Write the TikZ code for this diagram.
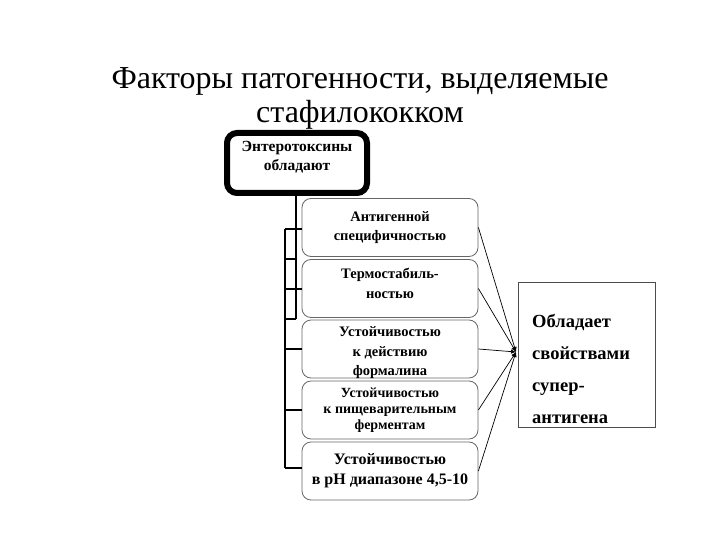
\documentclass[tikz,border=0pt]{standalone}
\usepackage{fontspec}
\setmainfont{Liberation Serif}
\usetikzlibrary{arrows.meta}
\begin{document}
\begin{tikzpicture}[x=1pt,y=-1pt,
  item/.style={draw=black!60, line width=0.8pt, rounded corners=9pt, minimum width=176pt, minimum height=58pt, inner sep=0pt, align=center, font=\bfseries\fontsize{14.5}{19.5}\selectfont},
  itemtext/.style={inner sep=0pt, align=center, font=\bfseries\fontsize{14.5}{20}\selectfont},
  bracket/.style={line width=2.6pt},
  link/.style={line width=0.7pt, -{Latex[length=5pt,width=4.5pt]}}]
\useasboundingbox (0,0) rectangle (720,540);
\node[font=\fontsize{32}{34}\selectfont, align=center, inner sep=0pt] (title) at (360,98) {Факторы патогенности, выделяемые\\стафилококком};
% top box
\node[draw, line width=6pt, rounded corners=10pt, minimum width=140pt, minimum height=60pt, inner sep=0pt] (top) at (297,163) {};
\node[font=\bfseries\fontsize{15.5}{19}\selectfont, align=center, anchor=north, inner sep=0pt] (toptext) at (297,141) {Энтеротоксины\\обладают};
% items
\node[item] (b1) at (390,227.5) {Антигенной\\специфичностью};
\node[item] (b2) at (390,288.5) {};
\node[itemtext] (b2text) at (390,283) {Термостабиль-\\ностью};
\node[item] (b3) at (390,349) {};
\node[itemtext, font=\bfseries\fontsize{14.5}{19.5}\selectfont] (b3text) at (390,353) {Устойчивостью\\к действию\\формалина};
\node[item, font=\bfseries\fontsize{14}{16}\selectfont] (b4) at (390,410) {Устойчивостью\\к пищеварительным\\ферментам};
\node[item, font=\bfseries\fontsize{16}{20}\selectfont] (b5) at (390,471) {Устойчивостью\\в pH диапазоне 4,5-10};
% right box
\node[draw=black!70, line width=0.8pt, minimum width=137pt, minimum height=145pt, inner sep=0pt] (sup) at (586.5,354.5) {};
\node[font=\bfseries\fontsize{18.5}{32}\selectfont, align=left, anchor=north west, inner sep=0pt] (suptext) at (532,314) {Обладает\\свойствами\\супер-\\антигена};
\coordinate (hub) at (516,352);
% bracket
\draw[bracket] (top.south -| 296,0) -- (296,319);
\draw[bracket] (285,229) -- (285,468);
\draw[bracket] (285,229) -- (b1.west |- 0,229);
\draw[bracket] (285,259) -- (296,259);
\draw[bracket] (285,289) -- (b2.west |- 0,289);
\draw[bracket] (285,319) -- (296,319);
\draw[bracket] (285,349) -- (b3.west |- 0,349);
\draw[bracket] (285,410) -- (b4.west |- 0,410);
\draw[bracket] (285,468) -- (b5.west |- 0,468);
% links
\foreach \b in {b1,b2,b3,b4,b5} \draw[link] (\b.east) -- (hub);
\end{tikzpicture}
\end{document}
